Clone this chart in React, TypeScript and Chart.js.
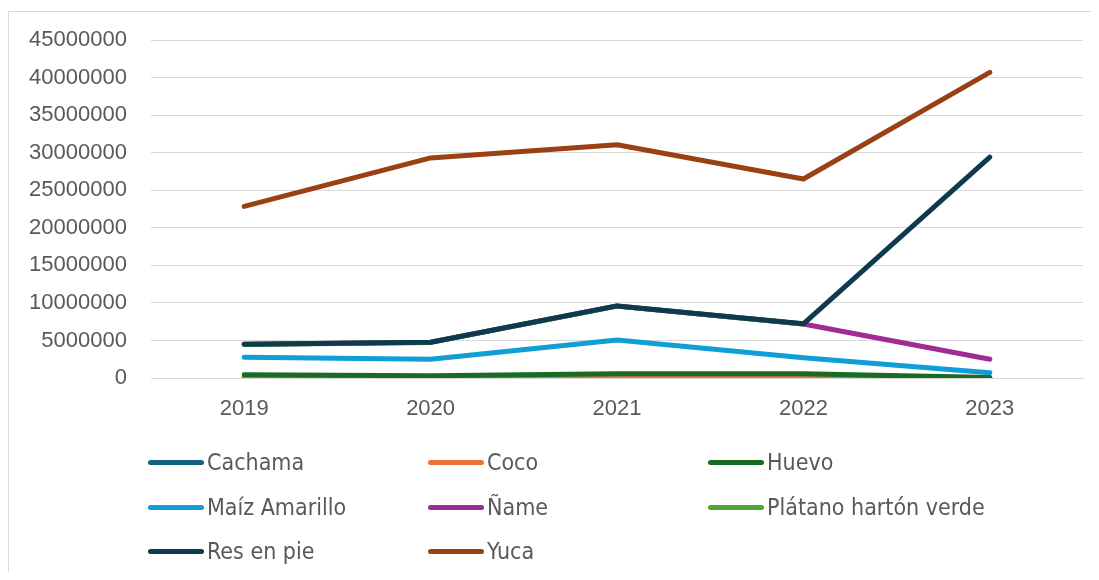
import React, { useEffect, useRef } from "react";
import { Chart, registerables } from "chart.js";

Chart.register(...registerables);

const years = ["2019", "2020", "2021", "2022", "2023"];
const yTicks = [0, 5000000, 10000000, 15000000, 20000000, 25000000, 30000000, 35000000, 40000000, 45000000];

// Values as plotted (stacked line: cumulative totals)
const cachama = [50000, 50000, 50000, 50000, 20000];
const coco = [100000, 100000, 150000, 150000, 50000];
const huevo = [420000, 300000, 550000, 550000, 60000];
const maiz = [2750000, 2500000, 5050000, 2700000, 700000];
const nameSerie = [4480000, 4750000, 9580000, 7200000, 2500000];
const platano = [4470000, 4740000, 9570000, 7190000, null];
const resEnPie = [4500000, 4770000, 9600000, 7210000, 29400000];
const yuca = [22850000, 29300000, 31050000, 26500000, 40700000];

const seriesNames = ["Cachama", "Coco", "Huevo", "Maíz Amarillo", "Ñame", "Plátano hartón verde", "Res en pie", "Yuca"];
const seriesData = [cachama, coco, huevo, maiz, nameSerie, platano, resEnPie, yuca];
const seriesColors = ["#156082", "#E97132", "#196B24", "#0F9ED5", "#A02B93", "#4EA72E", "#0D3A4E", "#9A4113"];

const legendCols = [0, 280, 560];
const legendRows = [454, 499, 543];

export default function App() {
  const canvasRef = useRef<HTMLCanvasElement | null>(null);

  useEffect(() => {
    if (!canvasRef.current) return;
    const n = seriesNames.length;
    const chart = new Chart(canvasRef.current, {
      type: "line",
      data: {
        labels: years,
        datasets: seriesNames.map((name, i) => ({
          label: name,
          data: seriesData[i],
          borderColor: seriesColors[i],
          backgroundColor: seriesColors[i],
          borderWidth: 5,
          borderCapStyle: "round" as const,
          borderJoinStyle: "round" as const,
          pointRadius: 0,
          pointHoverRadius: 0,
          tension: 0,
          fill: false,
          spanGaps: false,
          order: n - i,
        })),
      },
      options: {
        animation: false,
        responsive: false,
        maintainAspectRatio: false,
        layout: { padding: { top: 32, right: 8, bottom: 0, left: 0 } },
        plugins: {
          legend: { display: false },
          tooltip: { enabled: false },
        },
        scales: {
          x: {
            type: "category",
            offset: true,
            grid: { display: false, drawTicks: false },
            border: { display: true, color: "#d9d9d9", width: 1 },
            ticks: {
              color: "#595959",
              font: { family: "'Liberation Sans', Arial, sans-serif", size: 22 },
              padding: 18,
              maxRotation: 0,
            },
            afterFit: (scale: any) => {
              scale.height = 194;
              scale.paddingLeft = 0;
              scale.paddingRight = 0;
            },
          },
          y: {
            min: 0,
            max: 45000000,
            afterBuildTicks: (scale: any) => {
              scale.ticks = yTicks.map((v) => ({ value: v }));
            },
            grid: { color: "#d9d9d9", lineWidth: 1, drawTicks: false },
            border: { display: false },
            ticks: {
              color: "#595959",
              font: { family: "'Liberation Sans', Arial, sans-serif", size: 22 },
              padding: 24,
              callback: (v: any) => String(v),
            },
            afterFit: (scale: any) => {
              scale.width = 143;
              scale.paddingTop = 0;
              scale.paddingBottom = 0;
            },
          },
        },
      },
    });
    return () => chart.destroy();
  }, []);

  return (
    <div style={{ position: "relative", width: 1083, height: 564, overflow: "hidden" }}>
      <div
        style={{
          position: "absolute",
          left: 0,
          top: 3,
          width: 1300,
          height: 800,
          border: "1px solid #d9d9d9",
          boxSizing: "border-box",
        }}
      />
      <canvas ref={canvasRef} width={1083} height={564} style={{ position: "absolute", left: 0, top: 0 }} />
      {seriesNames.map((name, i) => {
        const col = i % 3;
        const row = Math.floor(i / 3);
        return (
          <div
            key={name}
            style={{
              position: "absolute",
              left: 140 + legendCols[col],
              top: legendRows[row] - 15,
              height: 30,
              display: "flex",
              alignItems: "center",
              whiteSpace: "nowrap",
            }}
          >
            <span
              style={{
                display: "inline-block",
                width: 56,
                height: 5,
                borderRadius: 3,
                background: seriesColors[i],
                marginRight: 3,
              }}
            />
            <span
              style={{
                color: "#595959",
                fontFamily: "'Liberation Sans Narrow', 'DejaVu Sans Condensed', 'Roboto', sans-serif",
                fontStretch: "condensed",
                fontSize: 23,
              }}
            >
              {name}
            </span>
          </div>
        );
      })}
    </div>
  );
}
